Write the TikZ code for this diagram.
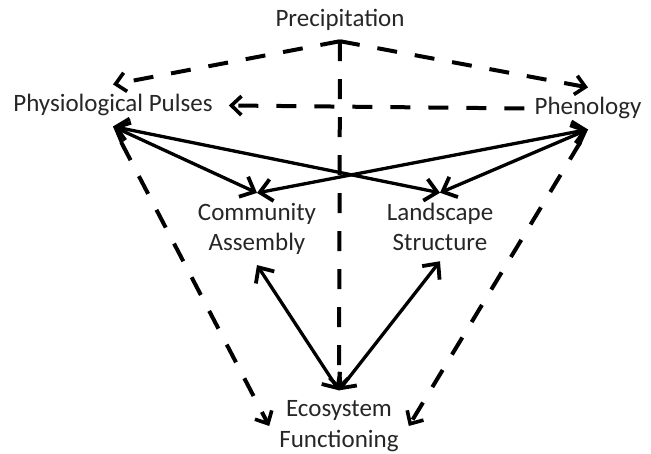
\documentclass[tikz,border=0pt]{standalone}
\usepackage{fontspec}
\setmainfont{Carlito}
\usetikzlibrary{arrows.meta}

\tikzset{
  lbl/.style={inner sep=10pt, text=black!85, font=\fontsize{25}{30.5}\selectfont, align=center},
  dline/.style={line width=4pt, dash pattern=on 20pt off 18pt, -{Straight Barb[length=10pt,width=19pt,line width=3.6pt]}},
  sline/.style={line width=3.3pt, {Straight Barb[length=12pt,width=22pt,line width=3.8pt]}-{Straight Barb[length=12pt,width=22pt,line width=3.8pt]}}
}

\begin{document}
\begin{tikzpicture}[x=1pt,y=-1pt]
\useasboundingbox (0,0) rectangle (651,454);
% drivers
\node[lbl,anchor=base] (prec) at (340,27) {Precipitation};
\node[lbl,anchor=base,inner xsep=16pt] (pp) at (113,112) {Physiological Pulses};
\node[lbl,anchor=base] (phen) at (588,115) {Phenology};
% middle
\node[lbl] (ca) at (257,229) {Community\\Assembly};
\node[lbl] (ls) at (440,227) {Landscape\\Structure};
% bottom
\node[lbl] (es) at (339,426) {Ecosystem\\Functioning};

%% dashed
\draw[dline] (prec.south) -- (pp.north);
\draw[dline] (prec.south) -- (phen.north);
\draw[dline] (prec.south) -- (es.north);
\draw[dline] (phen.west) -- (pp.east);
\draw[dline, shorten <=18pt] (pp.south) -- (es.west);
\draw[dline, shorten <=15pt] (phen.south) -- (es.east);

%% solid
\draw[sline] (pp.south) -- (ca.north);
\draw[sline] (pp.south) -- (ls.north);
\draw[sline] (phen.south) -- (ca.north);
\draw[sline] (phen.south) -- (ls.north);
\draw[sline] (ca.south) -- (es.north);
\draw[sline] (ls.south) -- (es.north);

\end{tikzpicture}
\end{document}
